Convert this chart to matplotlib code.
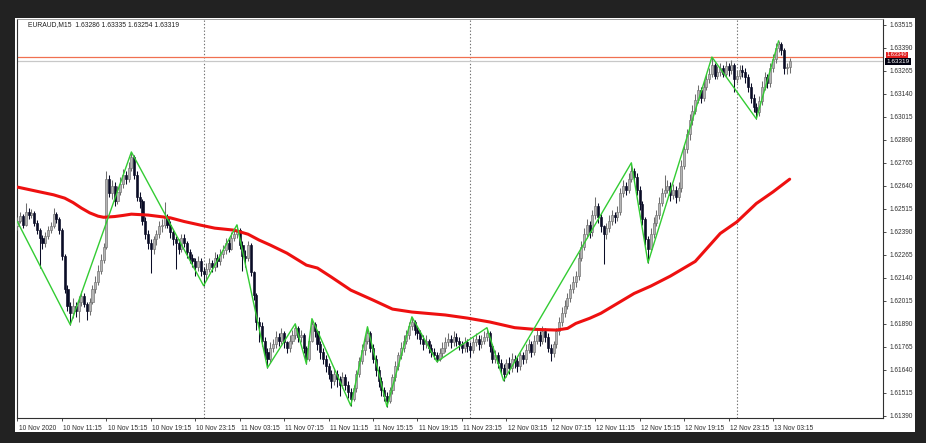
import matplotlib
matplotlib.use("Agg")
import matplotlib.pyplot as plt
import matplotlib.transforms as mtransforms
from matplotlib.patches import Rectangle
import numpy as np

# ---------------- data (prices in points above 1.60000) ----------------
symbol_text = "EURAUD,M15  1.63286 1.63335 1.63254 1.63319"

open_pts = [
    2420, 2450, 2475, 2430, 2500, 2480, 2495, 2440, 2400, 2360,
    2330, 2370, 2400, 2420, 2490, 2460, 2400, 2260, 2080, 1990,
    1950, 1990, 1960, 2010, 2040, 2000, 1960, 2010, 2080, 2120,
    2180, 2240, 2310, 2680, 2600, 2640, 2560, 2610, 2650, 2700,
    2680, 2740, 2800, 2700, 2580, 2560, 2450, 2380, 2330, 2300,
    2350, 2380, 2420, 2430, 2470, 2430, 2390, 2350, 2330, 2300,
    2360, 2330, 2280, 2250, 2230, 2200, 2230, 2180, 2160, 2190,
    2220, 2200, 2250, 2230, 2270, 2290, 2330, 2300, 2360, 2380,
    2400, 2320, 2260, 2250, 2320, 2170, 2050, 1900, 1880, 1800,
    1740, 1700, 1760, 1780, 1820, 1800, 1840, 1790, 1760, 1800,
    1830, 1870, 1820, 1830, 1760, 1700, 1800, 1890, 1850, 1780,
    1740, 1700, 1660, 1620, 1580, 1620, 1590, 1560, 1600, 1560,
    1520, 1480, 1540, 1620, 1690, 1750, 1800, 1840, 1760, 1700,
    1640, 1580, 1530, 1500, 1470, 1530, 1600, 1660, 1720, 1760,
    1800, 1830, 1880, 1900, 1860, 1840, 1810, 1780, 1800, 1760,
    1740, 1720, 1700, 1730, 1760, 1790, 1810, 1790, 1820, 1800,
    1780, 1760, 1790, 1770, 1750, 1790, 1810, 1780, 1800, 1820,
    1840, 1770, 1700, 1720, 1680, 1650, 1620, 1680, 1650, 1700,
    1690, 1660, 1720, 1700, 1750, 1780, 1740, 1800, 1830, 1800,
    1850, 1820, 1760, 1730, 1780, 1850, 1900, 1950, 1990, 2030,
    2080, 2120, 2150, 2250, 2310, 2380, 2430, 2390, 2480, 2530,
    2470, 2420, 2380, 2410, 2450, 2480, 2470, 2500, 2600, 2640,
    2620, 2680, 2720, 2690, 2620, 2540, 2460, 2350, 2300, 2380,
    2440, 2480, 2550, 2600, 2620, 2640, 2590, 2620, 2580, 2630,
    2750, 2840, 2920, 3000, 3050, 3110, 3160, 3120, 3180, 3220,
    3250, 3300, 3240, 3260, 3280, 3250, 3290, 3270, 3300, 3220,
    3240, 3270, 3260, 3230, 3180, 3120, 3070, 3040, 3100, 3180,
    3230, 3200, 3280, 3330, 3390, 3410, 3380, 3280, 3286,
]
high_pts = [
    2470, 2500, 2490, 2547, 2520, 2515, 2505, 2455, 2410, 2375,
    2390, 2420, 2445, 2520, 2500, 2470, 2410, 2270, 2100, 2010,
    2030, 2010, 2040, 2070, 2060, 2010, 2030, 2100, 2150, 2210,
    2270, 2330, 2720, 2700, 2670, 2660, 2640, 2690, 2730, 2720,
    2770, 2825, 2810, 2720, 2610, 2570, 2470, 2400, 2350, 2370,
    2400, 2450, 2460, 2552, 2490, 2450, 2400, 2370, 2350, 2380,
    2380, 2340, 2300, 2270, 2250, 2260, 2250, 2200, 2220, 2250,
    2240, 2280, 2270, 2300, 2320, 2360, 2350, 2390, 2410, 2429,
    2410, 2340, 2290, 2340, 2330, 2180, 2060, 1930, 1900, 1820,
    1760, 1790, 1810, 1850, 1840, 1870, 1850, 1800, 1830, 1860,
    1891, 1880, 1860, 1840, 1770, 1820, 1919, 1900, 1860, 1800,
    1760, 1720, 1680, 1640, 1650, 1640, 1610, 1630, 1620, 1580,
    1540, 1560, 1640, 1710, 1780, 1830, 1875, 1850, 1780, 1720,
    1660, 1600, 1550, 1520, 1550, 1620, 1690, 1740, 1790, 1830,
    1860, 1900, 1929, 1910, 1880, 1860, 1830, 1830, 1810, 1780,
    1760, 1740, 1760, 1790, 1820, 1840, 1830, 1850, 1840, 1820,
    1800, 1820, 1810, 1790, 1820, 1840, 1830, 1830, 1850, 1870,
    1850, 1780, 1750, 1740, 1700, 1670, 1700, 1710, 1730, 1720,
    1710, 1740, 1740, 1780, 1810, 1800, 1830, 1860, 1850, 1880,
    1870, 1840, 1780, 1800, 1870, 1930, 1980, 2020, 2060, 2110,
    2150, 2180, 2280, 2340, 2410, 2460, 2450, 2510, 2579, 2550,
    2490, 2430, 2440, 2480, 2510, 2500, 2530, 2630, 2670, 2660,
    2710, 2766, 2740, 2710, 2640, 2560, 2470, 2370, 2410, 2470,
    2510, 2580, 2630, 2700, 2670, 2660, 2650, 2640, 2660, 2780,
    2870, 2950, 3030, 3080, 3140, 3190, 3180, 3210, 3250, 3280,
    3341, 3310, 3290, 3310, 3300, 3320, 3310, 3325, 3310, 3270,
    3300, 3300, 3280, 3250, 3200, 3140, 3090, 3130, 3210, 3260,
    3250, 3310, 3360, 3415, 3428, 3420, 3390, 3310, 3335,
]
low_pts = [
    2400, 2440, 2410, 2420, 2460, 2465, 2425, 2380, 2194, 2300,
    2310, 2350, 2385, 2410, 2440, 2380, 2240, 2060, 1960, 1886,
    1920, 1930, 1900, 1990, 1980, 1910, 1940, 2000, 2060, 2100,
    2160, 2220, 2300, 2580, 2570, 2530, 2540, 2590, 2630, 2650,
    2660, 2720, 2680, 2560, 2520, 2430, 2350, 2300, 2167, 2270,
    2320, 2360, 2390, 2410, 2410, 2360, 2320, 2188, 2270, 2280,
    2310, 2250, 2220, 2200, 2150, 2180, 2150, 2098, 2130, 2170,
    2170, 2180, 2200, 2210, 2250, 2270, 2280, 2290, 2340, 2360,
    2300, 2180, 2200, 2230, 2150, 2020, 1860, 1790, 1770, 1700,
    1652, 1680, 1740, 1760, 1770, 1780, 1760, 1730, 1740, 1780,
    1810, 1790, 1790, 1730, 1674, 1690, 1790, 1820, 1750, 1700,
    1670, 1630, 1590, 1540, 1560, 1550, 1500, 1540, 1530, 1490,
    1446, 1470, 1520, 1600, 1670, 1720, 1780, 1740, 1680, 1610,
    1550, 1500, 1470, 1441, 1460, 1510, 1580, 1640, 1700, 1740,
    1780, 1810, 1860, 1830, 1810, 1780, 1750, 1760, 1730, 1710,
    1700, 1685, 1690, 1710, 1740, 1770, 1760, 1770, 1770, 1750,
    1730, 1740, 1740, 1710, 1730, 1770, 1750, 1760, 1780, 1800,
    1740, 1680, 1680, 1650, 1620, 1582, 1600, 1620, 1630, 1650,
    1630, 1640, 1670, 1680, 1730, 1710, 1720, 1780, 1770, 1780,
    1790, 1740, 1690, 1710, 1760, 1830, 1880, 1930, 1970, 2010,
    2060, 2090, 2130, 2230, 2290, 2360, 2360, 2370, 2460, 2440,
    2390, 2215, 2350, 2390, 2430, 2440, 2450, 2480, 2580, 2590,
    2600, 2660, 2660, 2590, 2510, 2430, 2320, 2223, 2280, 2360,
    2420, 2460, 2530, 2580, 2600, 2560, 2570, 2550, 2560, 2610,
    2730, 2820, 2890, 2970, 3030, 3090, 3090, 3100, 3160, 3200,
    3230, 3220, 3220, 3240, 3230, 3230, 3240, 3250, 3150, 3200,
    3220, 3230, 3200, 3150, 3090, 3040, 3005, 3020, 3080, 3160,
    3170, 3180, 3260, 3310, 3370, 3350, 3250, 3250, 3254,
]
close_pts = [
    2450, 2475, 2430, 2500, 2480, 2495, 2440, 2400, 2360, 2330,
    2370, 2400, 2420, 2490, 2460, 2400, 2260, 2080, 1990, 1950,
    1990, 1960, 2010, 2040, 2000, 1960, 2010, 2080, 2120, 2180,
    2240, 2310, 2680, 2600, 2640, 2560, 2610, 2650, 2700, 2680,
    2740, 2800, 2700, 2580, 2560, 2450, 2380, 2330, 2300, 2350,
    2380, 2420, 2430, 2470, 2430, 2390, 2350, 2330, 2300, 2360,
    2330, 2280, 2250, 2230, 2200, 2230, 2180, 2160, 2190, 2220,
    2200, 2250, 2230, 2270, 2290, 2330, 2300, 2360, 2380, 2400,
    2320, 2260, 2250, 2320, 2170, 2050, 1900, 1880, 1800, 1740,
    1700, 1760, 1780, 1820, 1800, 1840, 1790, 1760, 1800, 1830,
    1870, 1820, 1830, 1760, 1700, 1800, 1890, 1850, 1780, 1740,
    1700, 1660, 1620, 1580, 1620, 1590, 1560, 1600, 1560, 1520,
    1480, 1540, 1620, 1690, 1750, 1800, 1840, 1760, 1700, 1640,
    1580, 1530, 1500, 1470, 1530, 1600, 1660, 1720, 1760, 1800,
    1830, 1880, 1900, 1860, 1840, 1810, 1780, 1800, 1760, 1740,
    1720, 1700, 1730, 1760, 1790, 1810, 1790, 1820, 1800, 1780,
    1760, 1790, 1770, 1750, 1790, 1810, 1780, 1800, 1820, 1840,
    1770, 1700, 1720, 1680, 1650, 1620, 1680, 1650, 1700, 1690,
    1660, 1720, 1700, 1750, 1780, 1740, 1800, 1830, 1800, 1850,
    1820, 1760, 1730, 1780, 1850, 1900, 1950, 1990, 2030, 2080,
    2120, 2150, 2250, 2310, 2380, 2430, 2390, 2480, 2530, 2470,
    2420, 2380, 2410, 2450, 2480, 2470, 2500, 2600, 2640, 2620,
    2680, 2720, 2690, 2620, 2540, 2460, 2350, 2300, 2380, 2440,
    2480, 2550, 2600, 2620, 2640, 2590, 2620, 2580, 2630, 2750,
    2840, 2920, 3000, 3050, 3110, 3160, 3120, 3180, 3220, 3250,
    3300, 3240, 3260, 3280, 3250, 3290, 3270, 3300, 3220, 3240,
    3270, 3260, 3230, 3180, 3120, 3070, 3040, 3100, 3180, 3230,
    3200, 3280, 3330, 3390, 3410, 3380, 3280, 3286, 3319,
]

# moving average (bar index, points)
ma_bars = [0, 8, 13, 17, 20, 23, 26, 29, 31, 35, 38, 41, 47, 55, 60, 66, 71,
           78, 83, 87, 91, 97, 104, 108, 113, 120, 128, 135, 142, 154, 162,
           170, 179, 186, 194, 198, 201, 206, 210, 216, 222, 228, 235, 244,
           253, 259, 266, 272, 278]
ma_pts = [2634, 2608, 2592, 2574, 2550, 2520, 2494, 2476, 2470, 2474, 2480,
          2487, 2482, 2467, 2447, 2427, 2411, 2400, 2378, 2346, 2319, 2275,
          2210, 2194, 2145, 2074, 2020, 1971, 1955, 1939, 1922, 1901, 1870,
          1861, 1857, 1866, 1893, 1921, 1948, 2002, 2056, 2096, 2150, 2230,
          2382, 2445, 2545, 2608, 2677]

# zigzag pivots (bar index, points)
zz_bars = [0, 19, 41, 67, 79, 90, 100, 104, 106, 120, 126, 133, 142, 151,
           169, 175, 221, 227, 250, 266, 274]
zz_pts = [2445, 1886, 2825, 2098, 2429, 1652, 1891, 1674, 1919, 1446, 1875,
          1441, 1929, 1685, 1870, 1582, 2766, 2223, 3341, 3005, 3428]

time_labels = ["10 Nov 2020", "10 Nov 11:15", "10 Nov 15:15", "10 Nov 19:15",
               "10 Nov 23:15", "11 Nov 03:15", "11 Nov 07:15", "11 Nov 11:15",
               "11 Nov 15:15", "11 Nov 19:15", "11 Nov 23:15", "12 Nov 03:15",
               "12 Nov 07:15", "12 Nov 11:15", "12 Nov 15:15", "12 Nov 19:15",
               "12 Nov 23:15", "13 Nov 03:15"]
bars_per_label = 16
day_separator_bars = [67, 163, 259]

bid_price = 1.63319
ask_price = 1.63340

BASE = 1.6


def to_price(a):
    return BASE + np.asarray(a, dtype=float) / 1e5


o = to_price(open_pts)
h = to_price(high_pts)
l = to_price(low_pts)
c = to_price(close_pts)
x = np.arange(len(c))

# ---------------- figure ----------------
W, H = 926, 443
fig = plt.figure(figsize=(W / 100, H / 100), dpi=100, facecolor="#222222")
fig.patches.append(Rectangle((15 / W, (H - 432) / H), 900 / W, 414 / H,
                             transform=fig.transFigure, facecolor="white",
                             edgecolor="none", zorder=-10))
ax = fig.add_axes([17 / W, (H - 418) / H, 866 / W, 399 / H])
ax.set_zorder(1)
ax.set_facecolor("white")

FONT = "Liberation Sans"
TXT = "#202020"

# day separators
for b in day_separator_bars:
    ax.axvline(b, color="#707070", lw=0.8, ls=(0, (1.2, 1.8)), zorder=1)

# bid/ask lines
ax.axhline(ask_price, color="#f07050", lw=0.9, zorder=2)
ax.axhline(bid_price, color="#c8c8c8", lw=0.9, zorder=2)

# candles
bull = c >= o
bull_col, bull_edge = "#b4b4b4", "#6e6e6e"
bear_col = "#0a0c26"
ax.vlines(x[bull], l[bull], h[bull], color="#6e6e6e", lw=0.75, zorder=3)
ax.vlines(x[~bull], l[~bull], h[~bull], color=bear_col, lw=0.75, zorder=3)
body_lo = np.minimum(o, c)
body_h = np.maximum(np.abs(c - o), 0.000015)
ax.bar(x[bull], body_h[bull], bottom=body_lo[bull], width=0.74,
       color=bull_col, edgecolor=bull_edge, linewidth=0.45, zorder=4)
ax.bar(x[~bull], body_h[~bull], bottom=body_lo[~bull], width=0.74,
       color=bear_col, edgecolor=bear_col, linewidth=0.45, zorder=4)

# moving average
ax.plot(ma_bars, to_price(ma_pts), color="#ee1010", lw=2.2, zorder=5,
        solid_capstyle="round", solid_joinstyle="round")
# zigzag
ax.plot(zz_bars, to_price(zz_pts), color="#33cc33", lw=1.0, zorder=6)

# limits
ax.set_xlim(-0.18, 311.6)
ax.set_ylim(1.613791, 1.635476)

# y axis on right
yt = 1.61390 + 0.00125 * np.arange(18)
ax.yaxis.tick_right()
ax.set_yticks(yt)
ax.set_yticklabels([f"{v:.5f}" for v in yt], fontsize=4.7, family=FONT,
                   color=TXT)
ax.tick_params(axis="y", length=2.5, width=0.6, pad=2.0, colors="#303030")

# x axis
xt = np.arange(len(time_labels)) * bars_per_label
ax.set_xticks(xt)
ax.set_xticklabels(time_labels, fontsize=4.8, family=FONT, color=TXT)
ax.tick_params(axis="x", length=2.5, width=0.6, pad=2.2, colors="#303030")
offset = mtransforms.ScaledTranslation(1.2 / 100, 0, fig.dpi_scale_trans)
for lab in ax.get_xticklabels():
    lab.set_ha("left")
    lab.set_transform(lab.get_transform() + offset)

for sp in ["left", "bottom", "right"]:
    ax.spines[sp].set_color("#303030")
    ax.spines[sp].set_linewidth(0.8)
ax.spines["top"].set_color("#909090")
ax.spines["top"].set_linewidth(0.6)
ax.spines["top"].set_linestyle((0, (1, 1)))

# title
ax.text(11 / 866, 1 - 6 / 399, symbol_text, transform=ax.transAxes,
        fontsize=4.9, family=FONT, color=TXT, va="center", ha="left",
        zorder=12)

# price labels on right (ask label squeezed between tick label and bid label)
trans = mtransforms.blended_transform_factory(ax.transAxes, ax.transData)
bid_off = mtransforms.ScaledTranslation(0, -0.5 / 100, fig.dpi_scale_trans)
ax.text(1.004, bid_price, f"{bid_price:.5f}", transform=trans + bid_off,
        fontsize=4.6, family=FONT, color="white", va="center", ha="left",
        bbox=dict(boxstyle="square,pad=0.2", fc="#000010", ec="none"),
        zorder=11, clip_on=False)
ask_off = mtransforms.ScaledTranslation(0, 6.2 / 100, fig.dpi_scale_trans)
ax.text(1.004, bid_price, f"{ask_price:.5f}", transform=trans + ask_off,
        fontsize=4.1, family=FONT, color="white", va="center", ha="left",
        bbox=dict(boxstyle="square,pad=0.1", fc="#e02020", ec="none"),
        zorder=10, clip_on=False)

fig.savefig("out.png", dpi=100, facecolor=fig.get_facecolor())
